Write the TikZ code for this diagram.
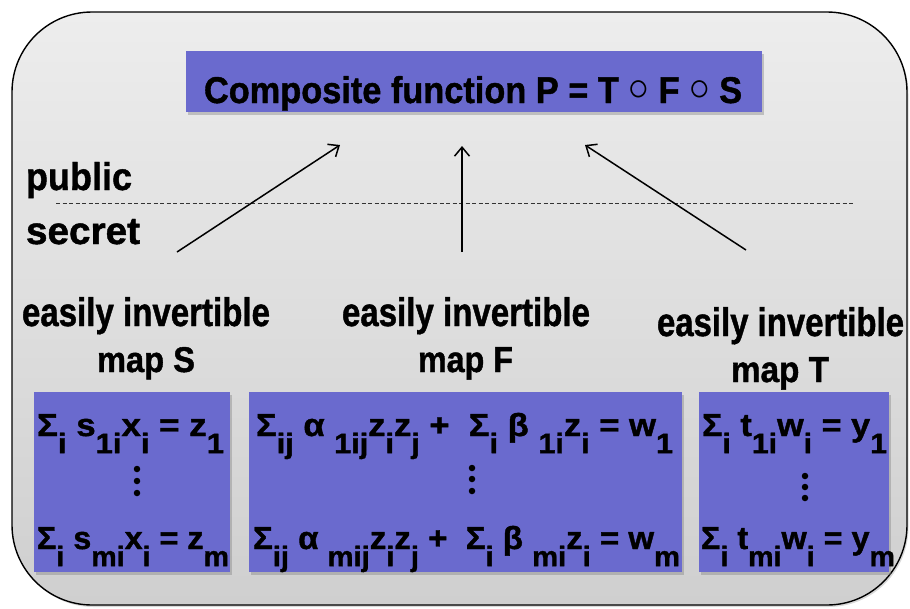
\documentclass[tikz,border=0pt]{standalone}
\usepackage{fontspec}
\setmainfont{Liberation Sans}[BoldFeatures={FakeBold=1.2}]
\usepackage{graphicx}
\usetikzlibrary{arrows.meta,shadows}
\definecolor{boxblue}{RGB}{106,106,206}
\definecolor{bgtop}{RGB}{237,237,237}
\definecolor{bgbot}{RGB}{207,207,207}
\newcommand\lo[1]{\raisebox{-14pt}{\fontsize{23}{23}\selectfont #1}}
\newcommand\ring{\raisebox{0.06em}{\scalebox{1.2}{$\circ$}}}
\newcommand\eqfit[2]{\resizebox{#1}{22pt}{\fontsize{26}{26}\selectfont\raisebox{0pt}[\fontcharht\font"03A3][0pt]{#2}}}
\begin{document}
\begin{tikzpicture}[x=1pt,y=-1pt,font=\bfseries,
  bluebox/.style={fill=boxblue,draw=none,inner sep=0,outer sep=0,anchor=north west,
    drop shadow={shadow xshift=2pt,shadow yshift=-3pt,opacity=0.4}},
  txt/.style={anchor=base west,inner sep=0,outer sep=0},
  arr/.style={line width=1.5pt,-{Straight Barb[length=9pt,width=15pt]}},
  blackdot/.style={circle,fill=black,draw=none,inner sep=0,minimum size=6.5pt}]
\useasboundingbox (0,0) rectangle (910,608);
% outer frame
\draw[line width=1.4pt,top color=bgtop,bottom color=bgbot,rounded corners=80pt,
  drop shadow={shadow xshift=1.5pt,shadow yshift=-2pt,opacity=0.3}] (12,12) rectangle (907,605);
% top box
\node[bluebox,minimum width=576pt,minimum height=61pt] (top) at (186,51) {};
\node[txt] (toptxt) at (204,103) {\resizebox{538pt}{27pt}{Composite function P = T \ring{} F \ring{} S}};
% public / secret
\coordinate (dL) at (56,203);
\coordinate (dR) at (853,203);
\draw[line width=0.8pt,draw=black!80,dash pattern=on 4pt off 2.5pt] (dL) -- (dR);
\node[txt] (pub) at (26,190) {\resizebox{106pt}{28pt}{public}};
\node[txt] (sec) at (26,244) {\resizebox{114pt}{25pt}{secret}};
% arrows
\coordinate (aS0) at (177,252); \coordinate (aS1) at (340,145);
\coordinate (aF0) at (462,252); \coordinate (aF1) at (462,146);
\coordinate (aT0) at (746,250); \coordinate (aT1) at (585,145);
\draw[arr] (aS0) -- (aS1);
\draw[arr] (aF0) -- (aF1);
\draw[arr] (aT0) -- (aT1);
% labels
\node[txt] (ls1) at (22,326) {\resizebox{248pt}{29pt}{easily invertible}};
\node[txt] (ls2) at (97,372) {\resizebox{98pt}{25pt}{map S}};
\node[txt] (lf1) at (342,326) {\resizebox{248pt}{29pt}{easily invertible}};
\node[txt] (lf2) at (418,372) {\resizebox{95pt}{25pt}{map F}};
\node[txt] (lt1) at (657,336) {\resizebox{247pt}{29pt}{easily invertible}};
\node[txt] (lt2) at (731,382) {\resizebox{98pt}{25pt}{map T}};
% boxes
\node[bluebox,minimum width=196pt,minimum height=180pt] (S) at (34,392) {};
\node[bluebox,minimum width=433pt,minimum height=180pt] (F) at (249,392) {};
\node[bluebox,minimum width=190pt,minimum height=180pt] (T) at (699,392) {};
% equations
\node[txt] (s1) at (37,436) {\eqfit{187pt}{Σ\lo{i} s\lo{1i}x\lo{i} = z\lo{1}}};
\node[txt] (s2) at (37,549) {\eqfit{192pt}{Σ\lo{i} s\lo{mi}x\lo{i} = z\lo{m}}};
\node[txt] (f1) at (256,436) {\eqfit{417pt}{Σ\lo{ij} α \lo{1ij}z\lo{i}z\lo{j} +\ \ Σ\lo{i} β \lo{1i}z\lo{i} = w\lo{1}}};
\node[txt] (f2) at (253,549) {\eqfit{427pt}{Σ\lo{ij} α \lo{mij}z\lo{i}z\lo{j} +\ \ Σ\lo{i} β \lo{mi}z\lo{i} = w\lo{m}}};
\node[txt] (t1) at (702,436) {\eqfit{185pt}{Σ\lo{i} t\lo{1i}w\lo{i} = y\lo{1}}};
\node[txt] (t2) at (701,549) {\eqfit{194pt}{Σ\lo{i} t\lo{mi}w\lo{i} = y\lo{m}}};
% vertical dots
\node[blackdot] (sd1) at (137,469) {};
\node[blackdot] (sd2) at (137,481) {};
\node[blackdot] (sd3) at (137,493) {};
\node[blackdot] (fd1) at (472,468) {};
\node[blackdot] (fd2) at (472,479) {};
\node[blackdot] (fd3) at (472,491) {};
\node[blackdot] (td1) at (805,476) {};
\node[blackdot] (td2) at (805,487) {};
\node[blackdot] (td3) at (805,498) {};
\end{tikzpicture}
\end{document}
